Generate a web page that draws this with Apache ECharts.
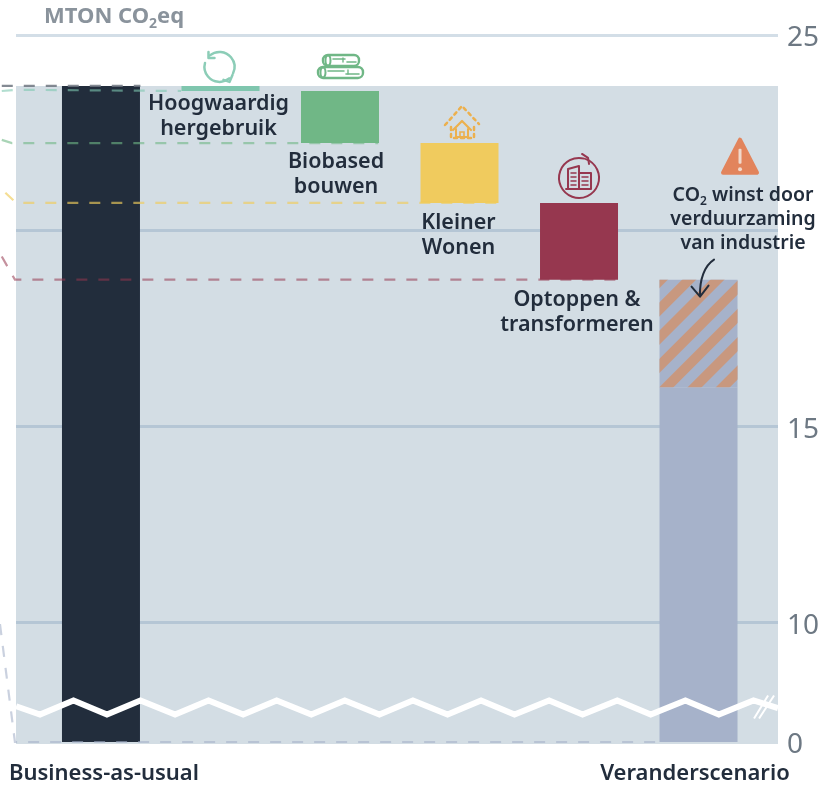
<!DOCTYPE html>
<html><head><meta charset="utf-8">
<style>html,body{margin:0;padding:0;background:#fff}#c{width:819px;height:785px}</style>
<script src="https://cdn.jsdelivr.net/npm/echarts@6/dist/echarts.min.js"></script>
</head><body><div id="c"></div>
<script>
// ---- data ----
const positions = [0, 1, 2, 3, 4, 5];
const baseValues = [0, 23.57, 22.24, 20.71, 18.75, 0];
const barValues = [23.7, 0.13, 1.33, 1.53, 1.96, 16.0];
const hatchedValues = [0, 0, 0, 0, 0, 2.75];
const barColors = ['#222d3c', '#7fc6ae', '#70b786', '#f0cb5e', '#96374f', '#a6b2ca'];
const barLabels = ['', 'Hoogwaardig\nhergebruik', 'Biobased\nbouwen', 'Kleiner\nWonen', 'Optoppen &\ntransformeren', ''];
const xLabelValues = [0.025, 4.97];
const xLabelNames = ['Business-as-usual', 'Veranderscenario'];
const yTickValues = [0, 10, 15, 20, 25];
const yLabelValues = [0, 10, 15, 25];
const xMin = -0.711, xMax = 5.665;
const panelTop = 23.7;
const breakStart = 0.7, breakEnd = 8;
// dashed connector levels: lead-in point, panel entry, end
const dashGray = [[-0.83, 23.7], [0.33, 23.7]];
const dashTeal = [[-0.83, 23.57], [-0.71, 23.6], [0.67, 23.57]];
const dashGreen = [[-0.83, 22.32], [-0.745, 22.24], [2.32, 22.24]];
const dashYellow = [[-0.80, 20.97], [-0.71, 20.71], [3.33, 20.71]];
const dashRed = [[-0.83, 19.34], [-0.72, 18.75], [4.33, 18.75]];
const dashLavender = [[-0.845, 9.95], [-0.72, 0], [4.67, 0]];
const dashSets = [
  [dashGray, 'rgba(110,118,128,.85)'], [dashTeal, 'rgba(126,200,176,.6)'], [dashGreen, 'rgba(112,183,134,.6)'],
  [dashYellow, 'rgba(240,205,90,.65)'], [dashRed, 'rgba(150,55,79,.55)'], [dashLavender, 'rgba(166,178,202,.6)']
];
const zigzagX = [-0.71,-0.51,-0.23,0.05,0.33,0.62,0.90,1.19,1.47,1.76,2.04,2.33,2.61,2.90,3.18,3.46,3.75,4.03,4.32,4.60,4.89,5.17,5.46,5.665];
const zigzagY = [5,0.7,8,0.7,8,0.7,8,0.7,8,0.7,8,0.7,8,0.7,8,0.7,8,0.7,8,0.7,8,0.7,8,4];
const iconAnchors = [[1, 23.7, 'recycle'], [2, 23.57, 'logs'], [3, 22.24, 'house'], [4, 20.71, 'building'], [5, 18.75, 'note'], [5.54, 8, 'slashes']];

const INK = '#222d3c', FONT = '"Noto Sans", sans-serif';
const labelDistances = [0, 0, 6, 7, 8, 0];
const labelShifts = [0, -2, -4, -1, -2, 0];

function line(points, color, w, extra) {
  return { type: 'polyline', shape: { points }, style: Object.assign({ stroke: color, lineWidth: w, fill: null, lineJoin: 'round', lineCap: 'round' }, extra || {}) };
}
function arc(cx, cy, r, a0, a1, color, w) {
  return { type: 'arc', shape: { cx, cy, r, startAngle: a0 * Math.PI / 180, endAngle: a1 * Math.PI / 180, clockwise: true }, style: { stroke: color, lineWidth: w, fill: null, lineCap: 'round' } };
}
function rect(x, y, width, height, color, w, r) {
  return { type: 'rect', shape: { x, y, width, height, r: r || 0 }, style: { stroke: color, lineWidth: w, fill: null } };
}
const icons = {
  recycle() { const c = '#8ccdb7', y = -19, x = -1; return [
    arc(x, y, 15, -130, 25, c, 2.5), arc(x, y, 15, 50, 195, c, 2.5),
    line([[x - 11, y - 15], [x - 11, y - 9], [x - 5, y - 9]], c, 2.5),
    line([[x + 13, y + 8], [x + 10, y + 15], [x + 4, y + 13]], c, 2.5)]; },
  logs() { const c = '#70b786'; return [
    rect(-17, -36, 36, 11, c, 2.4, 5), rect(-22, -24, 45, 11, c, 2.4, 5),
    { type: 'ellipse', shape: { cx: -12, cy: -30.5, rx: 2.5, ry: 5 }, style: { stroke: c, lineWidth: 2, fill: null } },
    { type: 'ellipse', shape: { cx: -17, cy: -18.5, rx: 2.5, ry: 5 }, style: { stroke: c, lineWidth: 2, fill: null } },
    line([[-7, -32], [5, -32]], c, 1.6), line([[7, -29], [16, -29]], c, 1.6), line([[3, -33], [3, -29]], c, 1.4),
    line([[-12, -20], [4, -20]], c, 1.6), line([[6, -17], [19, -17]], c, 1.6), line([[8, -21], [8, -17]], c, 1.4)]; },
  house() { const c = '#ecb04e', d = { lineDash: [3, 4] }, x = 2.5; return [
    line([[x - 17, -18], [x, -37], [x + 17, -19]], c, 2.5, d),
    line([[x - 11, -16], [x - 11, -5], [x + 12, -5], [x + 12, -16]], c, 2.5, d),
    line([[x - 9, -13], [x, -22], [x + 9, -13]], c, 2.2),
    line([[x - 6, -14], [x - 6, -6], [x + 6, -6], [x + 6, -14]], c, 2),
    rect(x - 2, -11, 4, 5, c, 1.6)]; },
  building() { const c = '#96374f', y = -25; return [
    arc(0, y, 20, -70, 285, c, 2),
    line([[3, y - 24], [9, y - 20], [10, y - 14]], c, 2),
    line([[-11, y + 11], [-11, y - 9], [0, y - 12], [0, y + 11]], c, 2),
    line([[0, y - 5], [12, y - 5], [12, y + 11], [-13, y + 11]], c, 2),
    line([[-8, y - 5], [-3, y - 5]], c, 1.5), line([[-8, y - 1], [-3, y - 1]], c, 1.5),
    line([[-8, y + 3], [-3, y + 3]], c, 1.5), line([[-8, y + 7], [-3, y + 7]], c, 1.5),
    line([[3, y - 1], [9, y - 1]], c, 1.5), line([[3, y + 3], [9, y + 3]], c, 1.5), line([[3, y + 7], [9, y + 7]], c, 1.5)]; },
  note() { const cx = 41.5; return [
    { type: 'polygon', shape: { points: [[cx - 17, -107], [cx, -140], [cx + 17, -107]] }, style: { fill: '#e2845c', stroke: '#e2845c', lineWidth: 4, lineJoin: 'round' } },
    { type: 'rect', shape: { x: cx - 1.5, y: -131, width: 3, height: 15, r: 1 }, style: { fill: '#f1d9cc' } },
    { type: 'circle', shape: { cx, cy: -110.5, r: 2 }, style: { fill: '#f1d9cc' } },
    { type: 'text', x: 44.5, y: -96, style: {
        text: '{n|CO}{s|2}{n| winst door}\n{n|verduurzaming}\n{n|van industrie}',
        align: 'center', verticalAlign: 'top', fill: INK,
        rich: { n: { fontFamily: FONT, fontSize: 19.5, fontWeight: 600, lineHeight: 24, fill: INK }, s: { fontFamily: FONT, fontSize: 12, fontWeight: 600, lineHeight: 12, verticalAlign: 'bottom', fill: INK } }
      } },
    { type: 'bezierCurve', shape: { x1: 15.5, y1: -20, cpx1: 6, cpy1: -14, cpx2: 1, cpy2: 0, x2: 1.5, y2: 16 }, style: { stroke: INK, lineWidth: 2, fill: null, lineCap: 'round' } },
    line([[-7, 7], [1.5, 17], [10, 6]], INK, 2)]; },
  slashes() { return [
    line([[-9, 18], [5, -5]], '#fff', 2, { lineCap: 'butt' }),
    line([[-4, 18], [11, -5]], '#fff', 2, { lineCap: 'butt' })]; }
};

const hatchDecal = { symbol: 'rect', symbolSize: 1, dashArrayX: [1, 0], dashArrayY: [9.5, 9.5], rotation: -Math.PI / 4, color: '#c8987f' };
const barEncode = { x: 1, y: 0 };

const option = {
  animation: false,
  backgroundColor: '#fff',
  title: {
    left: 44, top: 3, padding: 0,
    text: '{n|MTON CO}{s|2}{n|eq}',
    textStyle: { rich: {
      n: { fontFamily: FONT, fontSize: 22, fontWeight: 700, color: '#8a939c', lineHeight: 28 },
      s: { fontFamily: FONT, fontSize: 14, fontWeight: 700, color: '#8a939c', lineHeight: 14, verticalAlign: 'bottom' }
    } }
  },
  grid: { left: 16, right: 41, top: 35, bottom: 43, outerBoundsMode: 'none' },
  xAxis: {
    type: 'value', min: xMin, max: xMax,
    splitLine: { show: false }, axisLine: { show: false }, axisTick: { show: false },
    axisLabel: {
      customValues: xLabelValues,
      formatter: v => xLabelNames[xLabelValues.indexOf(v)] || '',
      margin: 21, fontFamily: FONT, fontSize: 22, fontWeight: 600, color: INK, hideOverlap: false
    }
  },
  yAxis: {
    type: 'value', position: 'right', min: 0, max: 25,
    breaks: [{ start: breakStart, end: breakEnd, gap: '2%' }],
    breakArea: { show: false },
    axisLine: { show: false },
    axisTick: { show: false, customValues: yTickValues },
    axisLabel: {
      customValues: yLabelValues, margin: 9,
      formatter: '{v|{value}}',
      rich: { v: { fontFamily: FONT, fontSize: 28, color: '#6d7883', padding: [7, 0, 0, 0] } }
    },
    splitLine: { show: true, lineStyle: { width: 3, color: ['transparent', '#b5c6d5', '#b5c6d5', '#b5c6d5', '#d3deE7'] } }
  },
  series: [
    { type: 'custom', name: 'panel', z: -1, silent: true, clip: false,
      data: [[xMin, 0, xMax, panelTop]],
      renderItem(p, api) {
        const a = api.coord([api.value(0), api.value(3)]), b = api.coord([api.value(2), api.value(1)]);
        return { type: 'rect', shape: { x: a[0], y: a[1], width: b[0] - a[0], height: b[1] - a[1] + 2 }, style: { fill: '#d3dde4' } };
      } },
    { type: 'bar', name: 'base', stack: 'w', barWidth: 78, silent: true, itemStyle: { color: 'transparent' }, encode: barEncode,
      data: positions.map((x, i) => [baseValues[i], x]) },
    { type: 'bar', name: 'main', stack: 'w', barWidth: 78, z: 3, encode: barEncode,
      data: positions.map((x, i) => ({
        value: [barValues[i], x],
        itemStyle: { color: barColors[i] },
        label: { show: !!barLabels[i], formatter: barLabels[i], distance: labelDistances[i], offset: [labelShifts[i], 0] }
      })),
      label: { position: 'bottom', fontFamily: FONT, fontSize: 21.5, fontWeight: 600, lineHeight: 25, color: INK } },
    { type: 'bar', name: 'hatched', stack: 'w', barWidth: 78, z: 3, encode: barEncode,
      itemStyle: { color: barColors[5], decal: hatchDecal },
      data: positions.map((x, i) => [hatchedValues[i], x]) },
    { type: 'custom', name: 'connectors', z: 4, silent: true, clip: false,
      data: dashSets.map((s, i) => [i]),
      renderItem(p, api) {
        const set = dashSets[p.dataIndex];
        return line(set[0].map(pt => api.coord(pt)), set[1], 2.2, { lineDash: [11, 11], lineCap: 'butt', lineJoin: 'miter' });
      } },
    { type: 'line', name: 'axis break', z: 5, symbol: 'none', silent: true,
      data: zigzagX.map((x, i) => [x, zigzagY[i]]),
      lineStyle: { color: '#fff', width: 6, join: 'miter' } },
    { type: 'custom', name: 'icons', z: 6, silent: true, clip: false,
      data: iconAnchors.map(a => [a[0], a[1]]),
      renderItem(p, api) {
        const o = api.coord([api.value(0), api.value(1)]);
        return { type: 'group', x: o[0], y: o[1], children: icons[iconAnchors[p.dataIndex][2]]() };
      } }
  ]
};
const chart = echarts.init(document.getElementById('c'), null, { renderer: 'canvas' });
chart.setOption(option);
</script></body></html>
